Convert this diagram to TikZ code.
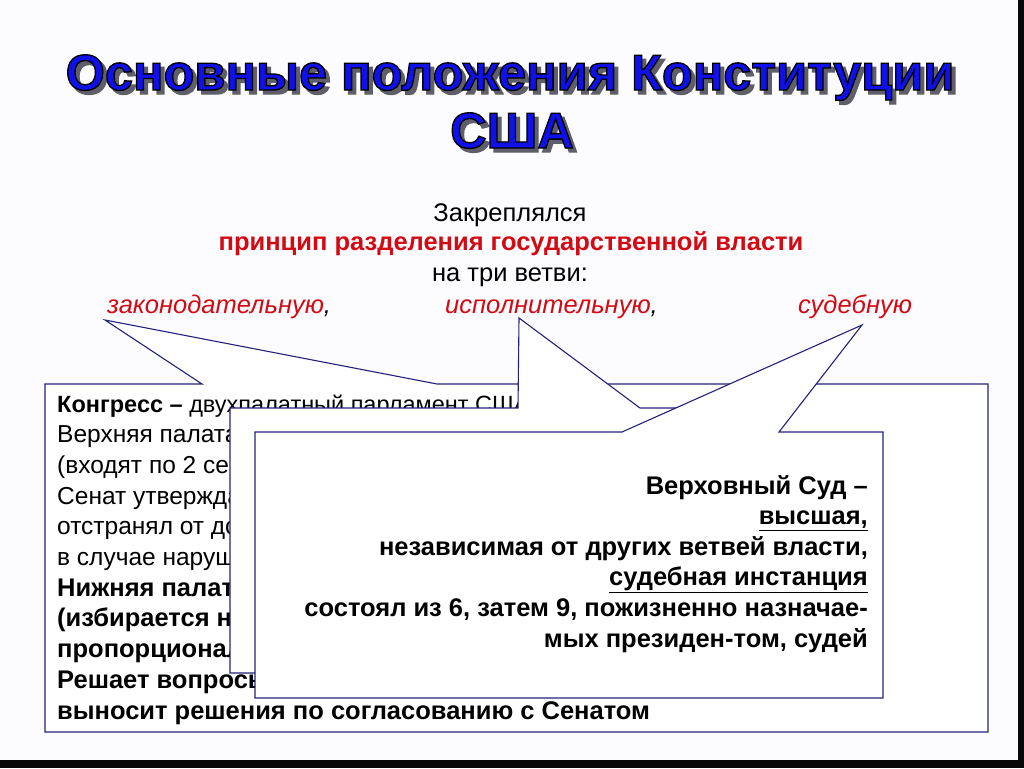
\documentclass[tikz,border=0pt]{standalone}
\usepackage{fontspec}
\setmainfont{Liberation Sans}
\newfontfamily\titlemain[FakeBold=2.6]{Liberation Sans Bold}
\newfontfamily\titleedge[FakeBold=2.6]{Liberation Sans Bold}
\definecolor{bgwhite}{RGB}{252,252,254}
\definecolor{titleblue}{RGB}{16,16,232}
\definecolor{shadowgray}{RGB}{95,95,105}
\definecolor{slidered}{RGB}{210,10,20}
\definecolor{calloutblue}{RGB}{36,34,120}
\definecolor{framedark}{RGB}{8,8,8}
\newcommand{\shadowtitle}[1]{%
  \makebox[0pt][l]{\hspace{4pt}\raisebox{-4pt}{\textcolor{shadowgray}{\titleedge #1}}}%
  \textcolor{titleblue}{\special{pdf:code 0 0 0 RG}\titlemain #1}}
\tikzset{
  titlebase/.style={inner sep=0pt, anchor=base, font=\fontsize{50.5}{58}\selectfont},
  headtext/.style={inner sep=0pt, anchor=base, font=\fontsize{25.5}{30}\selectfont},
  branchtext/.style={inner sep=0pt, anchor=base west, font=\fontsize{25.5}{30}\selectfont\itshape},
  calloutshape/.style={draw=calloutblue, line width=1.1pt, fill=white, line join=miter},
  plainline/.style={inner sep=0pt, anchor=base west, font=\fontsize{24.5}{30}\selectfont},
  boldline/.style={inner sep=0pt, anchor=base west, font=\fontsize{25.5}{30}\selectfont\bfseries},
  judline/.style={inner sep=0pt, anchor=base east, font=\fontsize{25.5}{30}\selectfont\bfseries},
}
\begin{document}
\begin{tikzpicture}[x=1pt,y=-1pt]
\useasboundingbox (0,0) rectangle (1024,768);
\fill[bgwhite] (0,0) rectangle (1024,768);
\fill[framedark] (1018,0) rectangle (1024,768);
\fill[framedark] (0,760) rectangle (1024,768);

% title
\node[titlebase] (t1) at (510,90) {\shadowtitle{Основные положения Конституции}};
\node[titlebase] (t2) at (512,148) {\shadowtitle{США}};

% intro lines
\node[headtext] (h1) at (510,221) {Закреплялся};
\node[headtext, text=slidered] (h2) at (511,250) {\bfseries принцип разделения государственной власти};
\node[headtext] (h3) at (510,281) {на три ветви:};
\node[branchtext] (b1) at (107,313) {\textcolor{slidered}{законодательную}\textcolor{black}{,}};
\node[branchtext] (b2) at (445,313) {\textcolor{slidered}{исполнительную}\textcolor{black}{,}};
\node[branchtext] (b3) at (798,313) {\textcolor{slidered}{судебную}};

% callout 1: legislative
\path[calloutshape] (45,384) -- (202,384) -- (105,320) -- (437,384) -- (988,384)
  -- (988,732) -- (45,732) -- cycle;
\node[plainline] (l1) at (57,412.0) {\fontsize{23.5}{30}\selectfont\textbf{Конгресс –} двухпалатный парламент США};
\node[plainline] (l2) at (57,442.7) {Верхняя палата};
\node[plainline] (l3) at (57,473.4) {(входят по 2 сенатора};
\node[plainline] (l4) at (57,504.1) {Сенат утверждал};
\node[plainline] (l5) at (57,534.8) {отстранял от должности};
\node[plainline] (l6) at (57,565.5) {в случае нарушения};
\node[boldline] (l7) at (57,596.2) {Нижняя палата};
\node[boldline] (l8) at (57,626.9) {(избирается на};
\node[boldline] (l9) at (57,657.6) {пропорционально};
\node[boldline] (l10) at (57,688.3) {Решает вопросы};
\node[boldline] (l11) at (57,719.0) {выносит решения по согласованию с Сенатом};

% callout 2: executive
\path[calloutshape] (230,408) -- (518,408) -- (519,318) -- (640,408) -- (740,408)
  -- (740,673) -- (230,673) -- cycle;

% callout 3: judicial
\path[calloutshape] (255,432) -- (622,432) -- (862,325) -- (779,432) -- (883,432)
  -- (883,698) -- (255,698) -- cycle;
\node[judline] (j1) at (868,494.0) {Верховный Суд –};
\node[judline] (j2) at (868,524.6) {\underline{высшая,}};
\node[judline] (j3) at (868,555.2) {независимая от других ветвей власти,};
\node[judline] (j4) at (868,585.8) {\underline{судебная инстанция}};
\node[judline] (j5) at (868,616.4) {состоял из 6, затем 9, пожизненно назначае-};
\node[judline] (j6) at (868,647.0) {мых президен-том, судей};
\end{tikzpicture}
\end{document}
